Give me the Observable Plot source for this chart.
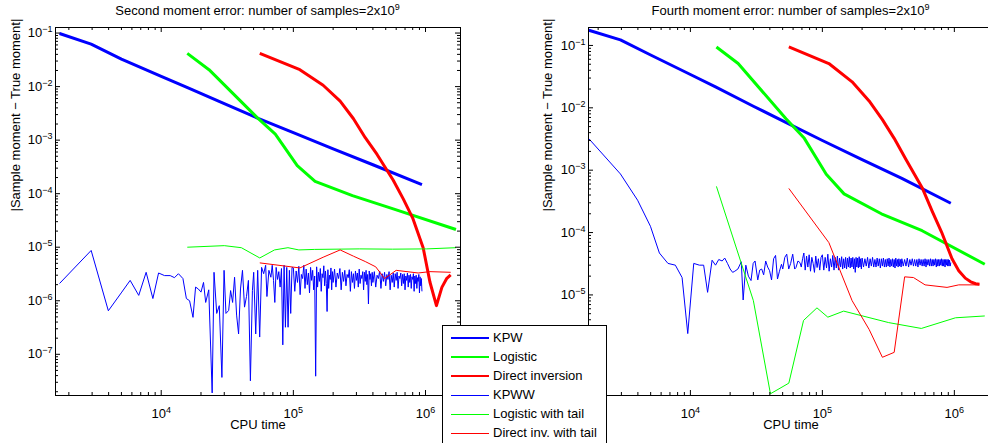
<!DOCTYPE html>
<html>
<head>
<meta charset="utf-8">
<script src="https://cdn.jsdelivr.net/npm/d3@7"></script>
<script src="https://cdn.jsdelivr.net/npm/@observablehq/plot@0.6"></script>
<style>
  html, body { margin: 0; padding: 0; background: #fff; }
  #wrap { position: relative; width: 988px; height: 443px; overflow: hidden; background: #fff;
          font-family: 'Liberation Sans', Arial, Helvetica, sans-serif; color: #000; }
  .title { position: absolute; top: 3px; font-size: 13px; line-height: 16px; text-align: center; white-space: nowrap; }
  .title sup { font-size: 9px; vertical-align: 0; position: relative; top: -5px; }
  .plot { position: absolute; top: 0; }
  #legend { position: absolute; left: 442px; top: 325px; width: 163px; height: 140px;
            border: 1px solid #000; background: #fff; font-size: 13px; }
  #legend .row { position: absolute; left: 0; height: 19px; width: 100%; }
  #legend .swatch { position: absolute; left: 8px; width: 38px; }
  #legend .lab { position: absolute; left: 50px; top: 2px; line-height: 15px; white-space: nowrap; }
</style>
</head>
<body>
<div id="wrap">
  <div class="title" style="left:55px;width:405px">Second moment error: number of samples=2x10<sup>9</sup></div>
  <div class="title" style="left:588px;width:405px">Fourth moment error: number of samples=2x10<sup>9</sup></div>
</div>
<script>
// ---------------- data ----------------
const xTickValues = [1e4, 1e5, 1e6];
const yTickValuesLeft = [1e-7, 1e-6, 1e-5, 1e-4, 1e-3, 1e-2, 1e-1];
const yTickValuesRight = [1e-6, 1e-5, 1e-4, 1e-3, 1e-2, 1e-1];
const xDomainLeft = [1585, 1840000];
const xDomainRight = [1690, 1980000];
const yDomainLeft = [1.7e-8, 0.127];
const yDomainRight = [2.44e-7, 0.194];

const seriesNames = ["KPW", "Logistic", "Direct inversion", "KPWW", "Logistic with tail", "Direct inv. with tail"];

// thick curves
const kpwTime = [1700, 2950, 5000, 10000, 15500, 30000, 54700, 100000, 200000, 400000, 940000];
const kpwLeft = [0.098, 0.062, 0.0327, 0.01556, 0.00973, 0.0048, 0.00252, 0.00138, 0.00069, 0.000347, 0.000148];
const kpwRight = [0.175, 0.123, 0.0703, 0.0342, 0.0217, 0.0106, 0.00562, 0.00299, 0.00148, 0.00074, 0.000295];

const logisticTime = [15750, 23000, 53000, 73000, 107000, 146000, 280000, 570000, 1700000];
const logisticLeft = [0.0417, 0.0207, 0.00266, 0.0013, 0.000334, 0.00017, 0.000092, 0.000052, 0.0000214];
const logisticRight = [0.0946, 0.0513, 0.00668, 0.00324, 0.00086, 0.000417, 0.0002, 0.000107, 0.000031];

const directTime = [55700, 112000, 168000, 226000, 285000, 350000, 430000, 570000, 680000, 800000, 960000, 1080000, 1210000, 1330000, 1450000, 1550000];
const directLeft = [0.0417, 0.0207, 0.0106, 0.00537, 0.00251, 0.00111, 0.00054, 0.000178, 0.000079, 0.000035, 0.0000098, 2.24e-6, 8.1e-7, 1.78e-6, 2.63e-6, 3.05e-6];
const directRight = [0.0946, 0.0513, 0.0261, 0.0129, 0.00646, 0.00324, 0.00148, 0.000525, 0.000219, 0.000102, 0.000038, 0.0000245, 0.0000186, 0.0000162, 0.0000151, 0.0000148];

// thin curves
const logisticTailTime = [15750, 30000, 40400, 55700, 72000, 91000, 110000, 145000, 318000, 562000, 1020000, 1700000];
const logisticTailLeft = [1.0e-5, 1.07e-5, 9.8e-6, 6.3e-6, 8.9e-6, 9.8e-6, 8.9e-6, 9.1e-6, 9.3e-6, 9.2e-6, 9.3e-6, 9.8e-6];
const logisticTailRight = [5.5e-4, 8.1e-6, 2.6e-7, 3.85e-7, 3.9e-6, 6.2e-6, 4.4e-6, 5.5e-6, 3.6e-6, 2.9e-6, 4.3e-6, 4.6e-6];

const directTailTime = [55700, 112000, 168000, 226000, 285000, 350000, 420000, 490000, 600000, 880000, 1080000, 1550000];
const directTailLeft = [5.1e-6, 4.1e-6, 6.5e-6, 8.9e-6, 6.8e-6, 5.4e-6, 4.3e-6, 2.6e-6, 3.7e-6, 3.3e-6, 3.5e-6, 3.4e-6];
const directTailRight = [5.1e-4, 6.9e-5, 8.1e-6, 2.8e-6, 1.0e-6, 1.2e-6, 1.95e-5, 1.9e-5, 1.45e-5, 1.32e-5, 1.45e-5, 1.45e-5];

const kpwwTime = [
  1700, 2950, 3980, 4980, 5820, 6760, 7690, 8650, 9550, 10600,
  11700, 12600, 13500, 14600, 15500, 16400, 17400, 18200, 19100, 20000,
  20900, 21700, 22900, 24300, 25100, 26300, 27500, 28800, 29900, 30900,
  32400, 33500, 34700, 35900, 37200, 38500, 39800, 41200, 42700, 44200,
  45700, 47300, 49000, 50100, 51900, 53700, 55600, 57500, 59600, 61700,
  63100, 65300, 67600, 69200, 70800, 72400, 74100, 75900, 77600, 79400,
  81300, 83200, 85100, 87100, 89100, 91200, 93300, 95500, 97700,
  100000, 102500, 105000, 107500, 110000, 112500, 115000, 117500, 120000, 122500,
  125000, 127500, 130000, 132500, 135000, 137500, 140000, 142500, 145000, 147500,
  150000, 152500, 155000, 157500, 160000, 162500, 165000, 167500, 170000, 172500,
  175000, 177500, 180000, 182500, 185000, 187500, 190000, 192500, 195000, 197500,
  200000, 205000, 210000, 215000, 220000, 225000, 230000, 235000, 240000, 245000,
  250000, 255000, 260000, 265000, 270000, 275000, 280000, 285000, 290000, 295000,
  300000, 305000, 310000, 315000, 320000, 325000, 330000, 335000, 340000, 345000,
  350000, 355000, 360000, 365000, 370000, 375000, 380000, 385000, 390000, 395000,
  400000, 410000, 420000, 430000, 440000, 450000, 460000, 470000, 480000, 490000,
  500000, 510000, 520000, 530000, 540000, 550000, 560000, 570000, 580000, 590000,
  600000, 610000, 620000, 630000, 640000, 650000, 660000, 670000, 680000, 690000,
  700000, 710000, 720000, 730000, 740000, 750000, 760000, 770000, 780000, 790000,
  800000, 810000, 820000, 830000, 840000, 850000, 860000, 870000, 880000, 890000,
  900000, 910000, 920000, 930000, 940000
];
const kpwwLeft = [
  2.1e-6, 8.7e-6, 6.5e-7, 1.4e-6, 2.4e-6, 1.26e-6, 3.4e-6, 1.1e-6, 3.3e-6, 2.95e-6,
  2.95e-6, 2.7e-6, 3.2e-6, 2.6e-6, 1.1e-6, 1.0e-6, 4.9e-7, 1.8e-6, 1.66e-6, 1.45e-6,
  2.2e-6, 9.3e-7, 1.6e-6, 1.9e-8, 3.4e-6, 5.8e-7, 8.1e-7, 3.7e-8, 3.7e-6, 5.8e-7,
  6.6e-7, 1.55e-6, 9.3e-7, 2.75e-6, 5.4e-7, 2.4e-7, 1.66e-6, 3.7e-6, 7.6e-7, 1.2e-6,
  2.4e-6, 3.2e-8, 1.55e-6, 3.4e-6, 2.4e-7, 3.7e-6, 2.1e-7, 4.2e-6, 3.2e-6, 4.6e-6,
  1.2e-6, 3.7e-6, 2.75e-6, 4.6e-6, 2.4e-6, 9.3e-7, 4.2e-6, 2.5e-6, 3.5e-6, 1.8e-6,
  4.0e-6, 1.5e-7, 4.6e-6, 3.2e-7, 4.2e-6, 3.2e-7, 3.7e-6, 5.8e-7, 4.2e-6,
  4.1e-6, 1.5e-6, 3.6e-6, 2.2e-6, 4.4e-6, 1.3e-6, 3.1e-6, 2.6e-6, 4.6e-6, 1.7e-6,
  3.9e-6, 2.0e-6, 3.3e-6, 1.4e-6, 4.2e-6, 2.4e-6, 3.7e-6, 1.6e-6, 2.9e-6, 3.9e-8,
  4.3e-6, 1.8e-6, 3.4e-6, 2.3e-6, 4.0e-6, 1.5e-6, 3.2e-6, 2.7e-6, 4.5e-6, 1.9e-6,
  3.6e-6, 2.1e-6, 6.3e-7, 3.8e-6, 1.7e-6, 3.0e-6, 2.5e-6, 4.1e-6, 1.6e-6, 3.5e-6,
  2.2e-6, 3.9e-6, 1.8e-6, 3.3e-6, 2.6e-6, 4.0e-6, 1.6e-6, 3.4e-6, 2.3e-6, 3.7e-6,
  1.9e-6, 3.1e-6, 2.7e-6, 3.8e-6, 1.5e-6, 3.5e-6, 2.2e-6, 3.2e-6, 1.7e-6, 3.6e-6,
  2.4e-6, 3.3e-6, 1.8e-6, 3.9e-6, 2.1e-6, 3.0e-6, 2.6e-6, 3.5e-6, 1.6e-6, 3.4e-6,
  2.3e-6, 3.7e-6, 2.0e-6, 3.1e-6, 8.7e-7, 3.6e-6, 2.5e-6, 3.2e-6, 1.9e-6, 3.4e-6,
  2.2e-6, 3.5e-6, 1.8e-6, 3.0e-6, 2.6e-6, 3.6e-6, 1.7e-6, 3.2e-6, 2.3e-6, 3.4e-6,
  1.9e-6, 3.1e-6, 2.5e-6, 3.5e-6, 1.6e-6, 3.0e-6, 2.2e-6, 3.3e-6, 1.8e-6, 3.2e-6,
  2.4e-6, 3.4e-6, 1.7e-6, 2.9e-6, 2.6e-6, 3.3e-6, 1.9e-6, 3.1e-6, 2.1e-6, 3.2e-6,
  1.6e-6, 2.9e-6, 2.4e-6, 3.3e-6, 1.8e-6, 3.0e-6, 2.2e-6, 3.1e-6, 1.7e-6, 2.8e-6,
  2.5e-6, 3.2e-6, 1.5e-6, 2.9e-6, 2.1e-6, 3.0e-6, 1.7e-6, 2.7e-6, 2.3e-6, 3.1e-6,
  1.4e-6, 2.8e-6, 1.9e-6, 2.6e-6, 1.5e-6
];
const kpwwRight = [
  3.2e-3, 8.7e-4, 3.3e-4, 1.26e-4, 4.7e-5, 3.2e-5, 3.0e-5, 1.9e-5, 2.4e-6, 3.2e-5,
  3.0e-5, 3.0e-5, 1.1e-5, 3.6e-5, 3.0e-5, 3.7e-5, 3.5e-5, 3.9e-5, 3.2e-5, 2.6e-5,
  2.3e-5, 2.4e-5, 2.6e-5, 3.4e-5, 8.3e-6, 3.0e-5, 2.0e-5, 1.7e-5, 3.2e-5, 3.5e-5,
  1.74e-5, 2.5e-5, 2.6e-5, 2.1e-5, 3.5e-5, 2.8e-5, 2.45e-5, 1.74e-5, 3.8e-5, 4.3e-5,
  1.8e-5, 2.4e-5, 3.1e-5, 2.6e-5, 4.0e-5, 4.5e-5, 2.6e-5, 3.2e-5, 4.5e-5, 2.6e-5,
  2.75e-5, 3.5e-5, 3.3e-5, 2.8e-5, 3.8e-5, 4.7e-5, 2.5e-5, 4.2e-5, 2.8e-5, 4.4e-5,
  2.4e-5, 4.0e-5, 3.2e-5, 2.3e-5, 4.2e-5, 2.75e-5, 3.8e-5, 2.5e-5, 4.0e-5,
  4.4e-5, 2.5e-5, 4.0e-5, 2.7e-5, 4.5e-5, 2.4e-5, 3.8e-5, 2.8e-5, 4.3e-5, 2.5e-5,
  4.0e-5, 2.7e-5, 4.2e-5, 2.5e-5, 3.9e-5, 2.8e-5, 4.1e-5, 2.6e-5, 3.8e-5, 2.7e-5,
  4.0e-5, 2.6e-5, 3.9e-5, 2.8e-5, 4.1e-5, 2.7e-5, 3.9e-5, 2.8e-5, 4.0e-5, 2.6e-5,
  3.8e-5, 2.3e-5, 4.0e-5, 2.8e-5, 3.9e-5, 2.7e-5, 4.1e-5, 2.8e-5, 3.8e-5, 2.6e-5,
  3.9e-5, 2.8e-5, 3.8e-5, 2.9e-5, 4.0e-5, 2.7e-5, 3.8e-5, 2.9e-5, 4.0e-5, 2.8e-5,
  3.7e-5, 2.8e-5, 3.9e-5, 2.9e-5, 3.8e-5, 2.7e-5, 3.8e-5, 2.9e-5, 3.9e-5, 2.8e-5,
  3.7e-5, 2.8e-5, 3.8e-5, 2.9e-5, 3.9e-5, 2.8e-5, 3.7e-5, 2.9e-5, 3.8e-5, 2.8e-5,
  3.7e-5, 2.7e-5, 3.9e-5, 2.9e-5, 3.7e-5, 2.8e-5, 3.8e-5, 2.9e-5, 3.7e-5, 2.8e-5,
  3.8e-5, 2.9e-5, 3.7e-5, 2.9e-5, 3.9e-5, 2.8e-5, 3.7e-5, 3.0e-5, 3.8e-5, 2.9e-5,
  3.7e-5, 2.9e-5, 3.7e-5, 2.8e-5, 3.8e-5, 3.0e-5, 3.7e-5, 2.9e-5, 3.7e-5, 2.9e-5,
  3.8e-5, 2.8e-5, 3.7e-5, 3.0e-5, 3.7e-5, 2.9e-5, 3.8e-5, 2.9e-5, 3.7e-5, 2.9e-5,
  3.7e-5, 3.0e-5, 3.8e-5, 2.8e-5, 3.7e-5, 2.9e-5, 3.7e-5, 2.9e-5, 3.7e-5, 3.0e-5,
  3.8e-5, 2.9e-5, 3.7e-5, 2.9e-5, 3.7e-5, 2.8e-5, 3.7e-5, 3.0e-5, 3.7e-5, 2.9e-5,
  3.7e-5, 2.9e-5, 3.6e-5, 2.9e-5, 3.3e-5
];

const BLUE = "#0000ff", GREEN = "#00ff00", RED = "#ff0000";
const FONT = "'Liberation Sans', Arial, Helvetica, sans-serif";
const Y_LABEL = "|Sample moment \u2212 True moment|";
const X_LABEL = "CPU time";

// ---------------- helpers ----------------
const pairs = (xs, ys) => xs.map((x, i) => ({x, y: ys[i]}));
function minorTicks([lo, hi]) {
  const out = [];
  for (let e = Math.floor(Math.log10(lo)); e <= Math.ceil(Math.log10(hi)); e++)
    for (let m = 2; m <= 9; m++) { const v = m * Math.pow(10, e); if (v > lo && v < hi) out.push(v); }
  return out;
}
const fmt = d => "10^" + String(Math.round(Math.log10(d))).replace("-", "\u2212");

function panel({xDomain, yDomain, yTicks, lines, yLabelDx}) {
  const W = 405, H = 368, ML = 55, MT = 27, MB = 48, MR = 10;
  const maj = 5, mnr = 3;
  const xMinor = minorTicks(xDomain), yMinor = minorTicks(yDomain);
  const lineMarks = lines.map(([data, color, sw]) =>
    Plot.line(data, {x: "x", y: "y", stroke: color, strokeWidth: sw, clip: true, strokeLinejoin: "round", strokeLinecap: "butt"}));
  const svg = Plot.plot({
    width: ML + W + MR, height: MT + H + MB,
    marginLeft: ML, marginRight: MR, marginTop: MT, marginBottom: MB,
    x: {type: "log", domain: xDomain},
    y: {type: "log", domain: yDomain},
    style: {fontFamily: FONT, fontSize: "13px", color: "#000", background: "transparent", overflow: "visible"},
    marks: [
      ...lineMarks,
      Plot.frame({stroke: "#000", strokeWidth: 1}),
      Plot.tickX(xTickValues, {x: d => d, insetTop: H - maj, stroke: "#000"}),
      Plot.tickX(xTickValues, {x: d => d, insetBottom: H - maj, stroke: "#000"}),
      Plot.tickX(xMinor, {x: d => d, insetTop: H - mnr, stroke: "#000"}),
      Plot.tickX(xMinor, {x: d => d, insetBottom: H - mnr, stroke: "#000"}),
      Plot.tickY(yTicks, {y: d => d, insetRight: W - maj, stroke: "#000"}),
      Plot.tickY(yTicks, {y: d => d, insetLeft: W - maj, stroke: "#000"}),
      Plot.tickY(yMinor, {y: d => d, insetRight: W - mnr, stroke: "#000"}),
      Plot.tickY(yMinor, {y: d => d, insetLeft: W - mnr, stroke: "#000"}),
      Plot.axisX(xTickValues, {anchor: "bottom", tickSize: 0, tickPadding: 13, tickFormat: fmt, label: null}),
      Plot.axisY(yTicks, {anchor: "left", tickSize: 0, tickPadding: 3, tickFormat: fmt, label: null}),
      Plot.text([X_LABEL], {frameAnchor: "bottom", dy: 33, text: d => d}),
      Plot.text([Y_LABEL], {frameAnchor: "left", rotate: -90, dx: yLabelDx, text: d => d})
    ]
  });
  // render 10^n tick labels with a raised exponent
  const ns = "http://www.w3.org/2000/svg";
  for (const t of svg.querySelectorAll("text")) {
    const m = t.textContent.match(/^10\^(.+)$/);
    if (!m) continue;
    t.textContent = "";
    const a = document.createElementNS(ns, "tspan"); a.textContent = "10";
    const b = document.createElementNS(ns, "tspan");
    b.setAttribute("dy", "-5"); b.setAttribute("font-size", "9"); b.textContent = m[1];
    t.append(a, b);
  }
  svg.classList.add("plot");
  return svg;
}

const wrap = document.getElementById("wrap");

const left = panel({
  xDomain: xDomainLeft, yDomain: yDomainLeft, yTicks: yTickValuesLeft, yLabelDx: -40,
  lines: [
    [pairs(kpwTime, kpwLeft), BLUE, 3],
    [pairs(logisticTime, logisticLeft), GREEN, 3],
    [pairs(directTime, directLeft), RED, 3],
    [pairs(kpwwTime, kpwwLeft), BLUE, 1],
    [pairs(logisticTailTime, logisticTailLeft), GREEN, 1],
    [pairs(directTailTime, directTailLeft), RED, 1]
  ]
});
left.style.left = "0px";
wrap.appendChild(left);

const right = panel({
  xDomain: xDomainRight, yDomain: yDomainRight, yTicks: yTickValuesRight, yLabelDx: -41,
  lines: [
    [pairs(kpwTime, kpwRight), BLUE, 3],
    [pairs(logisticTime, logisticRight), GREEN, 3],
    [pairs(directTime, directRight), RED, 3],
    [pairs(kpwwTime, kpwwRight), BLUE, 1],
    [pairs(logisticTailTime, logisticTailRight), GREEN, 1],
    [pairs(directTailTime, directTailRight), RED, 1]
  ]
});
right.style.left = "533px";
wrap.appendChild(right);

// legend
const legend = document.createElement("div");
legend.id = "legend";
const legendStyles = [[BLUE, 2.5], [GREEN, 2.5], [RED, 2.5], [BLUE, 1], [GREEN, 1], [RED, 1]];
seriesNames.forEach((name, i) => {
  const row = document.createElement("div");
  row.className = "row";
  row.style.top = (2 + 19 * i) + "px";
  const sw = document.createElement("div");
  sw.className = "swatch";
  const [c, w] = legendStyles[i];
  sw.style.background = c; sw.style.height = w + "px"; sw.style.top = (10 - w / 2) + "px";
  const lab = document.createElement("div");
  lab.className = "lab"; lab.textContent = name;
  row.append(sw, lab);
  legend.appendChild(row);
});
wrap.appendChild(legend);
</script>
</body>
</html>
